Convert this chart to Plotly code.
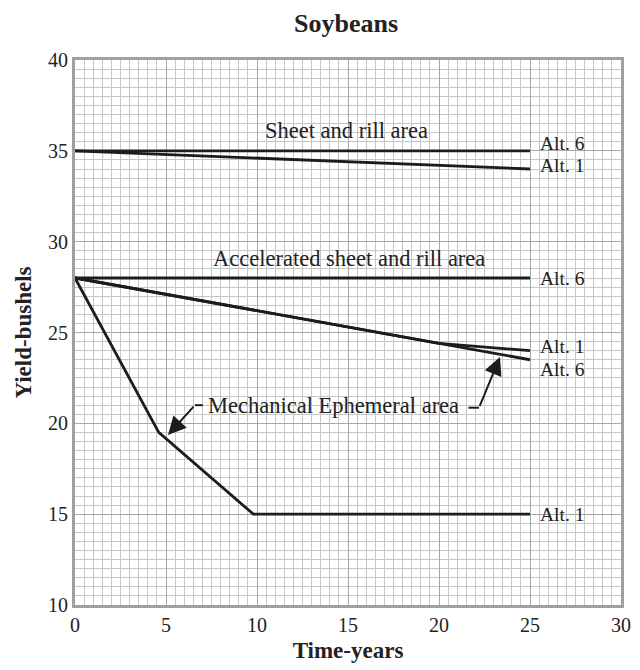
import plotly.graph_objects as go

# Data (years, yield bushels)
sheet_alt6_x = [0, 25]
sheet_alt6_y = [35, 35]
sheet_alt1_x = [0, 25]
sheet_alt1_y = [35, 34]

acc_alt6_flat_x = [0, 25]
acc_alt6_flat_y = [28, 28]
acc_alt6_x = [0, 25]
acc_alt6_y = [28, 23.5]
acc_alt1_x = [0, 20, 25]
acc_alt1_y = [28, 24.4, 24.0]

mech_alt1_x = [0, 4.6, 9.8, 25]
mech_alt1_y = [28, 19.5, 15, 15]

x_ticks = [0, 5, 10, 15, 20, 25, 30]
y_ticks = [10, 15, 20, 25, 30, 35, 40]

SERIF = "Liberation Serif, DejaVu Serif, serif"
INK = "#1c1c1c"
LINE = dict(color=INK, width=2.8)

fig = go.Figure()
for xs, ys in [(sheet_alt6_x, sheet_alt6_y), (sheet_alt1_x, sheet_alt1_y),
               (acc_alt6_flat_x, acc_alt6_flat_y), (acc_alt6_x, acc_alt6_y),
               (acc_alt1_x, acc_alt1_y), (mech_alt1_x, mech_alt1_y)]:
    fig.add_trace(go.Scatter(x=xs, y=ys, mode="lines", line=LINE,
                             showlegend=False, hoverinfo="skip"))

area_labels = [
    ("Sheet and rill area", 14.9, 36.1),
    ("Accelerated sheet and rill area", 15.05, 29.1),
    ("Mechanical Ephemeral area", 14.23, 21.0),
]
for txt, x, y in area_labels:
    fig.add_annotation(x=x, y=y, text=txt, showarrow=False, xanchor="center",
                       yanchor="middle",
                       font=dict(family=SERIF, size=22.5, color="#222"))

alt_labels = [
    ("Alt. 6", 35.42),
    ("Alt. 1", 34.17),
    ("Alt. 6", 28.0),
    ("Alt. 1", 24.22),
    ("Alt. 6", 22.97),
    ("Alt. 1", 15.0),
]
for txt, y in alt_labels:
    fig.add_annotation(x=25.45, y=y, text=txt, showarrow=False, xanchor="left",
                       yanchor="middle",
                       font=dict(family=SERIF, size=19.5, color="#222"))

# arrows
fig.add_annotation(x=5.11, y=19.36, ax=6.59, ay=21.0, xref="x", yref="y",
                   axref="x", ayref="y", text="", showarrow=True,
                   arrowhead=2, arrowsize=1.8, arrowwidth=2, arrowcolor=INK)
fig.add_annotation(x=23.35, y=23.65, ax=22.2, ay=20.86, xref="x", yref="y",
                   axref="x", ayref="y", text="", showarrow=True,
                   arrowhead=2, arrowsize=1.8, arrowwidth=2, arrowcolor=INK)
fig.add_shape(type="line", x0=6.59, y0=21.0, x1=7.02, y1=21.0,
              line=dict(color=INK, width=2))
fig.add_shape(type="line", x0=21.62, y0=20.86, x1=22.2, y1=20.86,
              line=dict(color=INK, width=2))

axis_common = dict(
    showgrid=True, gridcolor="#a8a8a8", gridwidth=1.3,
    showline=True, mirror=True, linecolor="#a0a0a0", linewidth=3,
    zeroline=False, ticks="", automargin=False,
    tickfont=dict(family=SERIF, size=20, color="#222"),
    minor=dict(showgrid=True, gridcolor="#c6c6c6", gridwidth=1),
)

fig.update_layout(
    width=632, height=662,
    paper_bgcolor="white", plot_bgcolor="white",
    margin=dict(l=67, r=19, t=52, b=65),
    title=dict(text="<b>Soybeans</b>", x=0.5348, xanchor="center",
               xref="container", yref="container", y=0.978, yanchor="middle",
               font=dict(family=SERIF, size=26, color="#222")),
    xaxis=dict(range=[0, 30], tickvals=x_ticks, **axis_common,
               title=dict(text="<b>Time-years</b>", standoff=7,
                          font=dict(family=SERIF, size=23, color="#222"))),
    yaxis=dict(range=[10, 40], tickvals=y_ticks, **axis_common,
               title=dict(text="<b>Yield-bushels</b>", standoff=10,
                          font=dict(family=SERIF, size=23, color="#222"))),
)
fig.update_xaxes(minor=dict(dtick=0.5))
fig.update_yaxes(minor=dict(dtick=0.5))

fig.write_html("out.html")
